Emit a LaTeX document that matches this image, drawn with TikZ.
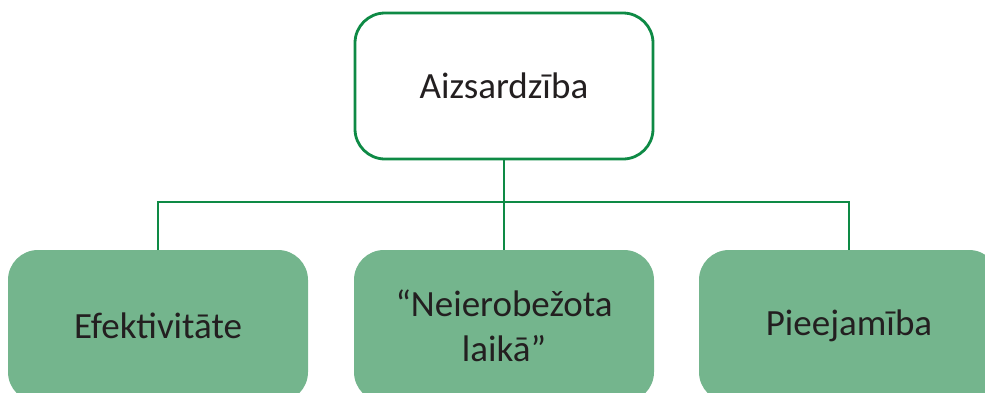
\documentclass[tikz,border=0pt]{standalone}
\usepackage{fontspec}
\setmainfont{Carlito}
\definecolor{linegreen}{HTML}{0E8A45}
\definecolor{boxgreen}{HTML}{74B58D}
\definecolor{textdark}{HTML}{231F20}
\begin{document}
\begin{tikzpicture}[x=1pt,y=-1pt,
  topbox/.style={draw=linegreen, line width=2.8pt, fill=white, rounded corners=30pt,
    minimum width=298pt, minimum height=146pt, inner sep=0pt},
  subbox/.style={fill=boxgreen, rounded corners=30pt,
    minimum width=300pt, minimum height=152pt, inner sep=0pt, align=center},
  label/.style={text=textdark, font=\fontsize{37}{45}\selectfont},
  link/.style={draw=linegreen, line width=2.8pt}]
\useasboundingbox (0,0) rectangle (985,392);
\clip (0,0) rectangle (985,392);
% parent node
\node[topbox] (top) at (504,86) {};
\node[label] at (top) {Aizsardzība};
% child nodes
\node[subbox] (left) at (158,326) {};
\node[subbox] (mid)  at (504,326) {};
\node[subbox] (right) at (849,326) {};
\node[label, align=center] at (left) {Efektivitāte};
\node[label, align=center] at (mid) {“Neierobežota\\laikā”};
\node[label, align=center] at (right) {Pieejamība};
% tree connectors
\coordinate (bus) at (504,202);
\draw[link] (top.south) -- (bus);
\draw[link] (left.north) |- (bus) -| (right.north);
\draw[link] (bus) -- (mid.north);
\end{tikzpicture}
\end{document}
